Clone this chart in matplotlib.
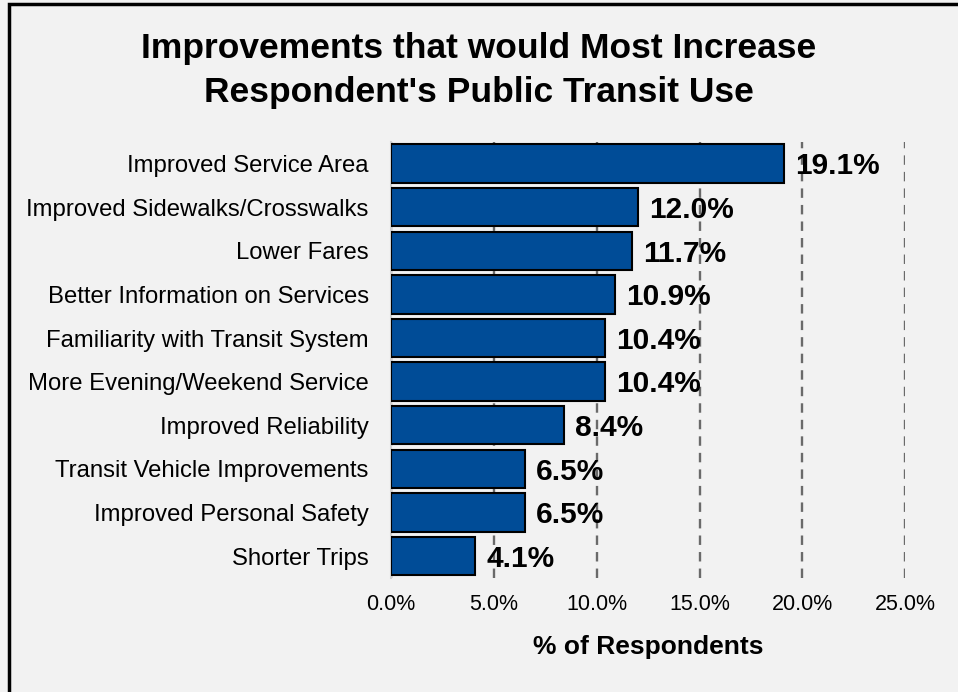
import matplotlib.pyplot as plt
from matplotlib.patches import Rectangle
from matplotlib.ticker import FuncFormatter

plt.rcParams['font.family'] = ['Liberation Sans', 'DejaVu Sans']

categories = [
    "Improved Service Area",
    "Improved Sidewalks/Crosswalks",
    "Lower Fares",
    "Better Information on Services",
    "Familiarity with Transit System",
    "More Evening/Weekend Service",
    "Improved Reliability",
    "Transit Vehicle Improvements",
    "Improved Personal Safety",
    "Shorter Trips",
]
shares = [19.1, 12.0, 11.7, 10.9, 10.4, 10.4, 8.4, 6.5, 6.5, 4.1]
xticks = [0, 5, 10, 15, 20, 25]

bg = "#F2F2F2"
bar_color = "#004C97"

fig = plt.figure(figsize=(9.58, 6.92), dpi=100, facecolor=bg)
ax = fig.add_axes([0.408, 0.165, 0.537, 0.630], facecolor=bg)

ypos = list(range(len(categories)))
ax.barh(ypos, shares, height=0.88, color=bar_color, edgecolor="black",
        linewidth=1.5, zorder=3)
ax.set_ylim(len(categories) - 0.5, -0.5)
ax.set_xlim(0, 25)

ax.set_yticks(ypos)
ax.set_yticklabels(categories, fontsize=17.2)
ax.set_xticks(xticks)
ax.xaxis.set_major_formatter(FuncFormatter(lambda v, _: f"{v:.1f}%"))
ax.tick_params(axis="x", labelsize=15.5, length=0, pad=12)
ax.tick_params(axis="y", length=0, pad=16)

ax.grid(axis="x", color="#6A6A6A", linestyle=(0, (4, 3)), linewidth=1.7, zorder=0)
for side in ["top", "right", "bottom"]:
    ax.spines[side].set_visible(False)
ax.spines["left"].set_color("#D0D0D0")
ax.spines["left"].set_linewidth(1.5)

for y, v in zip(ypos, shares):
    ax.annotate(f"{v:.1f}%", xy=(v, y), xytext=(8, -2), textcoords="offset points",
                ha="left", va="center", fontsize=21.5, fontweight="bold", zorder=4)

ax.set_xlabel("% of Respondents", fontsize=19, fontweight="bold", labelpad=14)

fig.text(0.5, 0.898, "Improvements that would Most Increase\nRespondent's Public Transit Use",
         ha="center", va="center", fontsize=25.5, fontweight="bold", linespacing=1.42)

# outer frame, running off the right and bottom edges
fig.patches.append(Rectangle((8.5 / 958, -0.05), 1.1, 0.05 + 1 - 4 / 692,
                             transform=fig.transFigure, fill=False,
                             edgecolor="black", linewidth=2.5))

fig.savefig("out.png", dpi=100, facecolor=bg)
